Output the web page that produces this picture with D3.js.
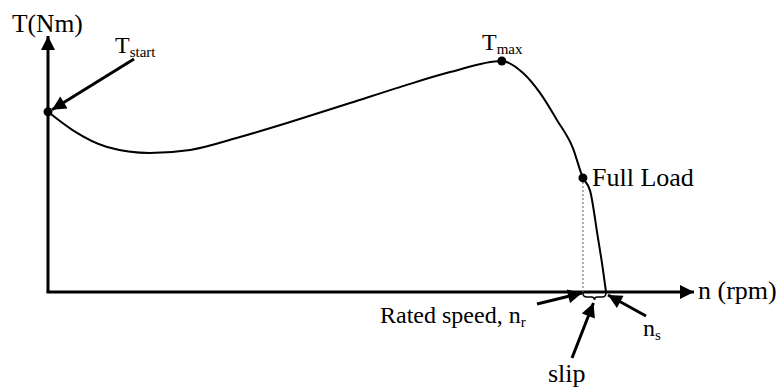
<!DOCTYPE html>
<html lang="en">
<head>
	<meta charset="utf-8">
	<title>Torque-speed curve</title>
	<script src="https://d3js.org/d3.v7.min.js"></script>
	<style>
		body { margin: 0; background: #fff; }
		.curve { fill: none; stroke: #000; stroke-width: 2px; }
	</style>
</head>
<body>
	<div id="chart"></div>
	<script>
		// speed (rpm) and torque (% of Tmax)
		var speed = [0, 67, 159, 274, 382, 516, 651, 812, 946, 1081, 1220, 1277, 1323, 1368, 1411, 1438, 1457, 1478, 1492, 1500];
		var torque = [78, 70, 62.8, 60.2, 61.5, 67.1, 73.6, 81.8, 88.7, 95.2, 100, 94.8, 86.1, 74.5, 62.3, 49.4, 44, 23.8, 9.5, 0];

		// marked points: start, max, full load
		var keyIdx = [0, 10, 15];
		var ratedSpeed = 1438, syncSpeed = 1500;

		var width = 779, height = 390;
		var svg = d3.select("#chart").append("svg")
			.attr("width", width).attr("height", height)
			.attr("font-family", "'Liberation Serif', 'Times New Roman', Times, serif");

		var x = d3.scaleLinear().domain([0, syncSpeed]).range([48, 606]);
		var y = d3.scaleLinear().domain([0, 100]).range([292, 61]);

		var defs = svg.append("defs");
		defs.append("marker")
			.attr("id", "head")
			.attr("viewBox", "0 0 10 10")
			.attr("refX", 10).attr("refY", 5)
			.attr("markerUnits", "userSpaceOnUse")
			.attr("markerWidth", 16).attr("markerHeight", 14)
			.attr("orient", "auto")
			.append("path").attr("d", "M0,0 L10,5 L0,10 Z").attr("fill", "#000");

		// axes
		var x0 = x(0), y0 = y(0);
		svg.append("line").attr("x1", x0).attr("y1", y0).attr("x2", x0).attr("y2", 36)
			.attr("stroke", "#000").attr("stroke-width", 3).attr("marker-end", "url(#head)");
		svg.append("line").attr("x1", x0 - 1.5).attr("y1", y0).attr("x2", 694).attr("y2", y0)
			.attr("stroke", "#000").attr("stroke-width", 3).attr("marker-end", "url(#head)");

		svg.append("text").attr("x", 12).attr("y", 32).attr("font-size", 25.5).text("T(Nm)");
		svg.append("text").attr("x", 698).attr("y", 299).attr("font-size", 26).text("n (rpm)");

		// dotted line to rated speed
		svg.append("line")
			.attr("x1", x(ratedSpeed)).attr("x2", x(ratedSpeed))
			.attr("y1", y(torque[15])).attr("y2", y0)
			.attr("stroke", "#777").attr("stroke-width", 1.2).attr("stroke-dasharray", "2,2");

		// curve
		var pts = speed.map(function (s, i) { return [s, torque[i]]; });
		svg.append("path").datum(pts).attr("class", "curve")
			.attr("d", d3.line()
				.x(function (d) { return x(d[0]); })
				.y(function (d) { return y(d[1]); })
				.curve(d3.curveMonotoneX));

		svg.selectAll(".key").data(keyIdx).enter().append("circle")
			.attr("class", "key")
			.attr("cx", function (i) { return x(speed[i]); })
			.attr("cy", function (i) { return y(torque[i]); })
			.attr("r", 4.5).attr("fill", "#000");

		// slip bracket under the axis
		var xr = x(ratedSpeed), xs = x(syncSpeed), xm = (xr + xs) / 2;
		svg.append("path")
			.attr("d", "M" + xr + "," + (y0 + 1) + " Q" + xr + "," + (y0 + 5) + " " + (xr + 4) + "," + (y0 + 5)
				+ " L" + (xm - 3) + "," + (y0 + 5) + " Q" + xm + "," + (y0 + 5) + " " + xm + "," + (y0 + 8)
				+ " Q" + xm + "," + (y0 + 5) + " " + (xm + 3) + "," + (y0 + 5)
				+ " L" + (xs - 4) + "," + (y0 + 5) + " Q" + xs + "," + (y0 + 5) + " " + xs + "," + (y0 + 1))
			.attr("fill", "none").attr("stroke", "#000").attr("stroke-width", 1.5);

		// annotation arrows
		function arrow(x1, y1, x2, y2) {
			svg.append("line").attr("x1", x1).attr("y1", y1).attr("x2", x2).attr("y2", y2)
				.attr("stroke", "#000").attr("stroke-width", 3).attr("marker-end", "url(#head)");
		}
		arrow(134, 59, x(0) + 4, y(torque[0]) - 2);
		arrow(537, 304, xr - 1, y0 + 1);
		arrow(572, 358, xm - 1, y0 + 11);
		arrow(646, 316, xs + 2, y0 + 3);

		// labels with subscripts
		function label(px, py, main, sub, size) {
			var t = svg.append("text").attr("x", px).attr("y", py).attr("font-size", size);
			t.append("tspan").text(main);
			t.append("tspan").attr("dy", 4).attr("font-size", Math.round(size * 0.63)).text(sub);
		}
		label(115, 53, "T", "start", 24);
		label(482, 50, "T", "max", 24);
		label(380, 323, "Rated speed, n", "r", 24);
		label(643, 336, "n", "s", 24);
		svg.append("text").attr("x", 592).attr("y", 186).attr("font-size", 26).text("Full Load");
		svg.append("text").attr("x", 548).attr("y", 382).attr("font-size", 26).text("slip");
	</script>
</body>
</html>
